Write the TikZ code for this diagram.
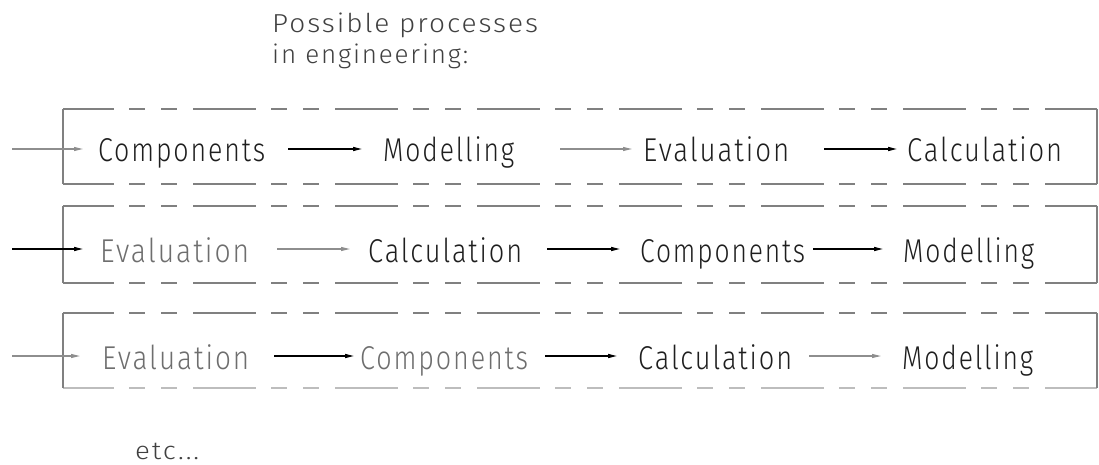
\documentclass[tikz,border=0pt]{standalone}
\usepackage{fontspec}
\usepackage{graphicx}
\setmainfont{Fira Sans}[UprightFont={* Light}]
\newfontfamily\isofont{Fira Sans}[UprightFont={* Light}, LetterSpace=7]
\usetikzlibrary{arrows.meta}
\definecolor{boxgrey}{HTML}{808080}
\definecolor{lightbox}{HTML}{BDBDBD}
\definecolor{arrgrey}{HTML}{8E8E8E}
\definecolor{txtdark}{HTML}{1E1E1E}
\definecolor{txtgrey}{HTML}{6E6E6E}
\newcommand\fitw[2]{\setbox0\hbox{#2}\pgfmathsetmacro\fitsx{#1/\the\wd0}\scalebox{\fitsx}[1]{\box0}}
\tikzset{
  word/.style={inner sep=0pt, anchor=base west, text height=26pt, text depth=0pt,
    font=\isofont\fontsize{33}{36}\selectfont, text=txtdark},
  greyword/.style={word, text=txtgrey},
  small/.style={inner sep=0pt, anchor=base west, font=\isofont\fontsize{26}{30}\selectfont, text=txtdark!85},
  side/.style={draw=boxgrey, line width=1.3pt},
  dashline/.style={draw=boxgrey, line width=1.3pt,
    dash pattern=on 63pt off 15pt on 16pt off 16pt on 16pt off 16pt, dash phase=12pt},
  blackarrow/.style={draw=black, line width=1.3pt, -{Triangle[length=9pt,width=4pt]}},
  greyarrow/.style={draw=arrgrey, line width=1.1pt, -{Triangle[length=9pt,width=4pt]}},
}
\begin{document}
\begin{tikzpicture}[x=1pt,y=-1pt]
\useasboundingbox (0,0) rectangle (1099,465);

% title
\node[small] (t1) at (272,33) {\fitw{266}{Possible processes}};
\node[small] (t2) at (272,64) {\fitw{196}{in engineering:}};

% boxes
\draw[dashline] (63,109) -- (1097,109);
\draw[dashline] (63,184) -- (1097,184);
\draw[side] (63,109) -- (63,184);
\draw[side] (1097,109) -- (1097,184);

\draw[dashline] (63,206) -- (1097,206);
\draw[dashline] (63,283) -- (1097,283);
\draw[side] (63,206) -- (63,283);
\draw[side] (1097,206) -- (1097,283);

\draw[dashline] (63,313) -- (1097,313);
\draw[dashline, draw=lightbox] (63,388) -- (1097,388);
\draw[side] (63,313) -- (63,388);
\draw[side] (1097,313) -- (1097,388);

% row 1
\coordinate (e1) at (12,149);
\node[word] (c1) at (98,162) {\fitw{167}{Components}};
\node[word] (m1) at (383,162) {\fitw{131}{Modelling}};
\node[word] (v1) at (643,162) {\fitw{146}{Evaluation}};
\node[word] (k1) at (907,162) {\fitw{155}{Calculation}};
\draw[greyarrow, shorten >=15pt] (e1) -- (c1.west);
\draw[blackarrow, shorten <=23pt, shorten >=21pt] (c1.east) -- (m1.west);
\draw[greyarrow, shorten <=46pt, shorten >=11pt] (m1.east) -- (v1.west);
\draw[blackarrow, shorten <=35pt, shorten >=10pt] (v1.east) -- (k1.west);

% row 2
\coordinate (e2) at (12,249);
\node[greyword] (v2) at (100,262) {\fitw{149}{Evaluation}};
\node[word] (k2) at (368,262) {\fitw{154}{Calculation}};
\node[word] (p2) at (640,262) {\fitw{165}{Components}};
\node[word] (m2) at (903,262) {\fitw{131}{Modelling}};
\draw[blackarrow, shorten >=17pt] (e2) -- (v2.west);
\draw[greyarrow, shorten <=28pt, shorten >=18pt] (v2.east) -- (k2.west);
\draw[blackarrow, shorten <=25pt, shorten >=20pt] (k2.east) -- (p2.west);
\draw[blackarrow, shorten <=8pt, shorten >=20pt] (p2.east) -- (m2.west);

% row 3
\coordinate (e3) at (12,356);
\node[greyword] (v3) at (102,369) {\fitw{147}{Evaluation}};
\node[greyword] (p3) at (360,369) {\fitw{168}{Components}};
\node[word] (k3) at (638,369) {\fitw{154}{Calculation}};
\node[word] (m3) at (902,369) {\fitw{131}{Modelling}};
\draw[greyarrow, shorten >=22pt] (e3) -- (v3.west);
\draw[blackarrow, shorten <=25pt, shorten >=6pt] (v3.east) -- (p3.west);
\draw[blackarrow, shorten <=17pt, shorten >=21pt] (p3.east) -- (k3.west);
\draw[greyarrow, shorten <=17pt, shorten >=21pt] (k3.east) -- (m3.west);

% etc
\node[small, font=\isofont\fontsize{25}{30}\selectfont] (etc) at (135,459) {\fitw{64}{etc...}};
\end{tikzpicture}
\end{document}
